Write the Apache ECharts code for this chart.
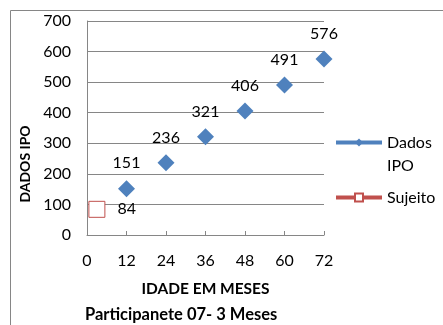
<!DOCTYPE html>
<html>
<head>
<meta charset="utf-8">
<style>
  html, body { margin: 0; padding: 0; background: #fff; }
  #chart { width: 443px; height: 325px; }
</style>
<script src="https://cdn.jsdelivr.net/npm/echarts@6/dist/echarts.min.js"></script>
</head>
<body>
<div id="chart"></div>
<script>
// Age in months and reference IPO values
const idadeMeses = [12, 24, 36, 48, 60, 72];
const dadosIPO = [151, 236, 321, 406, 491, 576];
// Subject's observation at 3 months
const sujeitoIdade = [3];
const sujeitoValor = [84];

const FONT = 'Lato';
const BLUE = '#4F81BD';
const RED = '#C0504D';
const GRAY = '#868686';

const chart = echarts.init(document.getElementById('chart'));

chart.setOption({
  animation: false,
  textStyle: { fontFamily: FONT },
  title: {
    text: 'Participanete 07- 3 Meses',
    left: 80,
    top: 301,
    textStyle: { fontFamily: FONT, fontSize: 16.5, fontWeight: 'bold', color: '#000' }
  },
  graphic: [{
    type: 'polyline',
    shape: { points: [[10.5, 330], [10.5, 10.5], [450, 10.5]] },
    style: { stroke: GRAY, lineWidth: 1, fill: null },
    silent: true
  }],
  legend: {
    orient: 'vertical',
    left: 329,
    top: 103,
    itemWidth: 46,
    itemHeight: 10,
    itemGap: 9,
    textStyle: { fontFamily: FONT, fontSize: 16, color: '#000', lineHeight: 23 },
    // a blank first line keeps the icon level with "Dados" while "IPO" wraps below
    formatter: name => name === 'Dados IPO' ? ' \nDados\nIPO' : name,
    data: [
      { name: 'Dados IPO', lineStyle: { color: BLUE, width: 4, opacity: 1 } },
      { name: 'Sujeito', lineStyle: { color: RED, width: 4, opacity: 1 } }
    ]
  },
  grid: { left: 87, right: 119, top: 21, bottom: 90 },
  xAxis: {
    type: 'value',
    min: 0, max: 72, interval: 12,
    name: 'IDADE EM MESES',
    nameLocation: 'middle',
    nameGap: 46,
    nameTextStyle: { fontFamily: FONT, fontSize: 15.5, fontWeight: 'bold', color: '#000' },
    axisLine: { show: true, onZero: false, lineStyle: { color: GRAY, width: 1 } },
    axisTick: { show: true, inside: true, length: 4, lineStyle: { color: GRAY } },
    axisLabel: { fontFamily: FONT, fontSize: 16, color: '#000', margin: 18 },
    splitLine: { show: false }
  },
  yAxis: {
    type: 'value',
    min: 0, max: 700, interval: 100,
    name: 'DADOS IPO',
    nameLocation: 'middle',
    nameGap: 55,
    nameRotate: 90,
    nameTextStyle: { fontFamily: FONT, fontSize: 14, fontWeight: 'bold', color: '#000', padding: [0, 72, 0, 0] },
    axisLine: { show: true, lineStyle: { color: GRAY, width: 1 } },
    axisTick: { show: false },
    axisLabel: { fontFamily: FONT, fontSize: 16, color: '#000', margin: 16 },
    splitLine: { show: true, lineStyle: { color: GRAY, width: 1 } }
  },
  series: [
    {
      name: 'Dados IPO',
      type: 'line',
      data: idadeMeses.map((m, i) => [m, dadosIPO[i]]),
      symbol: 'diamond',
      symbolSize: 17,
      itemStyle: { color: BLUE },
      lineStyle: { color: BLUE, width: 4, opacity: 0 },
      label: {
        show: true, position: 'top', distance: 9,
        fontFamily: FONT, fontSize: 16, color: '#000'
      }
    },
    {
      name: 'Sujeito',
      type: 'line',
      data: sujeitoIdade.map((m, i) => [m, sujeitoValor[i]]),
      symbol: 'rect',
      symbolSize: 16,
      itemStyle: { color: '#fff', borderColor: RED, borderWidth: 1 },
      lineStyle: { color: RED, width: 4, opacity: 0 },
      label: {
        show: true, position: 'right', distance: 12,
        fontFamily: FONT, fontSize: 16, color: '#000'
      }
    }
  ]
});
</script>
</body>
</html>
